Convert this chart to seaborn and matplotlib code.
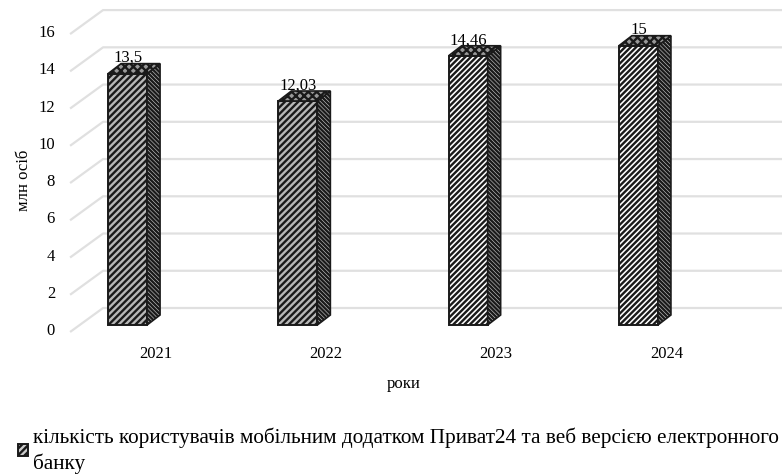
"""
Кількість користувачів Приват24, 3D-стовпці намальовані вручну поверх seaborn barplot
"""
import numpy as np
import matplotlib
matplotlib.use("Agg")
import matplotlib.pyplot as plt
from matplotlib.patches import Polygon, Patch
import seaborn as sns

years = ["2021", "2022", "2023", "2024"]
users = [13.5, 12.03, 14.46, 15]
value_labels = ["13,5", "12,03", "14,46", "15"]
y_ticks = [0, 2, 4, 6, 8, 10, 12, 14, 16]
legend_text = ("кількість користувачів мобільним додатком Приват24 та веб версією електронного\n"
               "банку")

sns.set_theme(style="white")
plt.rcParams["font.family"] = ["Liberation Serif", "DejaVu Serif"]
plt.rcParams["hatch.linewidth"] = 1.7
plt.rcParams["hatch.color"] = "#222222"

W, H = 782, 475
PX = 170.33  # px на одну категорію
PY = 18.62   # px на одиницю значення
DARK = "#1a1a1a"
GRID = "#e0e0e0"

fig = plt.figure(figsize=(W / 100, H / 100), dpi=100)
ax = fig.add_axes([62 / W, (H - 334) / H, 720 / W, 332 / H])

sns.barplot(x=years, y=users, ax=ax, width=39 / PX, color="white",
            saturation=1, edgecolor=DARK, linewidth=1.4, zorder=3)
ax.set_xlim(-0.385, 3.843)
ax.set_ylim(-9 / PY, 323 / PY)

# глибина стовпця і підлоги
dx, dy = 13 / PX, 10 / PY
front_x, front_y = -57.5 / PX, -7 / PY
back_x, back_y = -24.5 / PX, 17 / PY

for v in y_ticks:
    ax.plot([front_x, back_x, 3.843], [v + front_y, v + back_y, v + back_y],
            color=GRID, lw=1.6, zorder=1, solid_capstyle="butt")

front_hatch = ["/////", "/////", "//////", "//////"]
front_face = ["#b8b8b8", "#b8b8b8", "#ffffff", "#ffffff"]
for i, (bar, v) in enumerate(zip(ax.patches, users)):
    bar.set_hatch(front_hatch[i])
    bar.set_facecolor(front_face[i])
    x0, x1 = bar.get_x(), bar.get_x() + bar.get_width()
    side = [(x1, 0), (x1 + dx, dy), (x1 + dx, v + dy), (x1, v)]
    top = [(x0, v), (x1, v), (x1 + dx, v + dy), (x0 + dx, v + dy)]
    ax.add_patch(Polygon(side, facecolor="#cccccc", edgecolor=DARK, lw=1.2,
                         hatch="\\\\\\\\\\\\\\\\", zorder=3))
    ax.add_patch(Polygon(top, facecolor="#999999", edgecolor=DARK, lw=1.2,
                         hatch="xxxx", zorder=3))
    ax.text(i, v + 15.5 / PY, value_labels[i], ha="center", va="center",
            fontsize=12, color="black", zorder=4)

sns.despine(ax=ax, left=True, bottom=True)
ax.grid(False)
ax.set_yticks(np.array(y_ticks) - 4 / PY, [str(t) for t in y_ticks])
ax.set_xticks(np.arange(len(years)) + 28 / PX, years)
ax.tick_params(axis="y", length=0, pad=5, labelsize=12, labelcolor="black")
ax.tick_params(axis="x", length=0, pad=9, labelsize=12, labelcolor="black")

ax.set_xlabel("роки", fontsize=12, color="black")
ax.xaxis.set_label_coords((404 - 62) / 720, (334 - 376) / 332)
ax.set_ylabel("млн осіб", fontsize=12, color="black")
ax.yaxis.set_label_coords((32 - 62) / 720, (334 - 180) / 332)

handle = Patch(facecolor="#cccccc", edgecolor=DARK, hatch="/////", lw=1.4)
leg = fig.legend([handle], [legend_text], loc="upper left",
                 bbox_to_anchor=(18 / W, 1 - 427 / H), frameon=False, fontsize=15.3,
                 handlelength=0.48, handleheight=0.48, handletextpad=0.22,
                 labelspacing=0, borderpad=0, borderaxespad=0, labelcolor="black")
leg.get_texts()[0].set_linespacing(1.4)

fig.savefig("out.png", dpi=100)
